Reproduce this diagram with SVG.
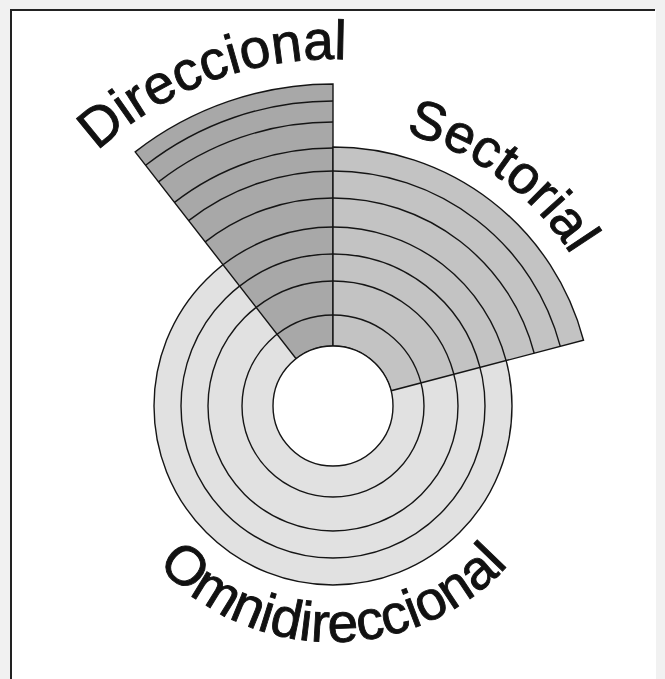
<svg xmlns="http://www.w3.org/2000/svg" width="665" height="679" viewBox="0 0 665 679">
  <style>
    .ln { fill: none; stroke: #151515; stroke-width: 1.4; }
    .lbl { font-family: "Liberation Sans", Arial, sans-serif; fill: #111; stroke: #111; stroke-width: 0.9; }
  </style>
  <defs>
    <path id="arcDir" d="M -14 406 A 347 347 0 0 1 680 406"/>
    <path id="arcSec" d="M 51 406 A 282 282 0 0 1 615 406"/>
    <path id="arcOmni" d="M 95 404 A 238 238 0 0 0 571 404"/>
  </defs>
  <rect x="0" y="0" width="665" height="679" fill="#f1f1f1"/>
  <rect x="11" y="10" width="645" height="669" fill="#ffffff"/>
  <path d="M 11 679 L 11 10 L 655 10" fill="none" stroke="#222" stroke-width="2"/>

  <g id="omnidireccional">
    <circle cx="333" cy="406" r="179" fill="#e1e1e1" stroke="#151515" stroke-width="1.4"/>
    <circle class="ln" cx="333" cy="406" r="152"/>
    <circle class="ln" cx="333" cy="406" r="125"/>
    <circle class="ln" cx="333" cy="406" r="91"/>
  </g>

  <g id="direccional">
    <path d="M 333 84 A 322 322 0 0 0 135.2 151.9 L 296.1 358.7 A 60 60 0 0 1 333 346 Z" fill="#a8a8a8" stroke="#151515" stroke-width="1.4"/>
    <path class="ln" d="M 277.1 334.2 A 91 91 0 0 1 333 315 M 256.2 307.4 A 125 125 0 0 1 333 281 M 239.6 286.1 A 152 152 0 0 1 333 254 M 223 264.8 A 179 179 0 0 1 333 227 M 205.2 241.9 A 208 208 0 0 1 333 198 M 188.6 220.6 A 235 235 0 0 1 333 171 M 174.5 202.4 A 258 258 0 0 1 333 148 M 158.5 181.9 A 284 284 0 0 1 333 122 M 145.6 165.3 A 305 305 0 0 1 333 101"/>
  </g>

  <g id="sectorial">
    <path d="M 333 147 A 259 259 0 0 1 583.5 340.3 L 391 390.8 A 60 60 0 0 0 333 346 Z" fill="#c3c3c3" stroke="#151515" stroke-width="1.4"/>
    <path class="ln" d="M 333 315 A 91 91 0 0 1 421 382.9 M 333 281 A 125 125 0 0 1 453.9 374.3 M 333 254 A 152 152 0 0 1 480 367.4 M 333 227 A 179 179 0 0 1 506.1 360.6 M 333 198 A 208 208 0 0 1 534.2 353.2 M 333 171 A 235 235 0 0 1 560.3 346.4"/>
  </g>

  <g id="centro">
    <circle cx="333" cy="406" r="60" fill="#ffffff" stroke="#151515" stroke-width="1.4"/>
  </g>

  <g id="etiquetas">
    <text class="lbl" font-size="55"><textPath href="#arcDir" startOffset="422" text-anchor="middle">Direccional</textPath></text>
    <text class="lbl" font-size="54"><textPath href="#arcSec" startOffset="621" text-anchor="middle">Sectorial</textPath></text>
    <text class="lbl" font-size="55"><textPath href="#arcOmni" startOffset="50%" text-anchor="middle">Omnidireccional</textPath></text>
  </g>
</svg>
